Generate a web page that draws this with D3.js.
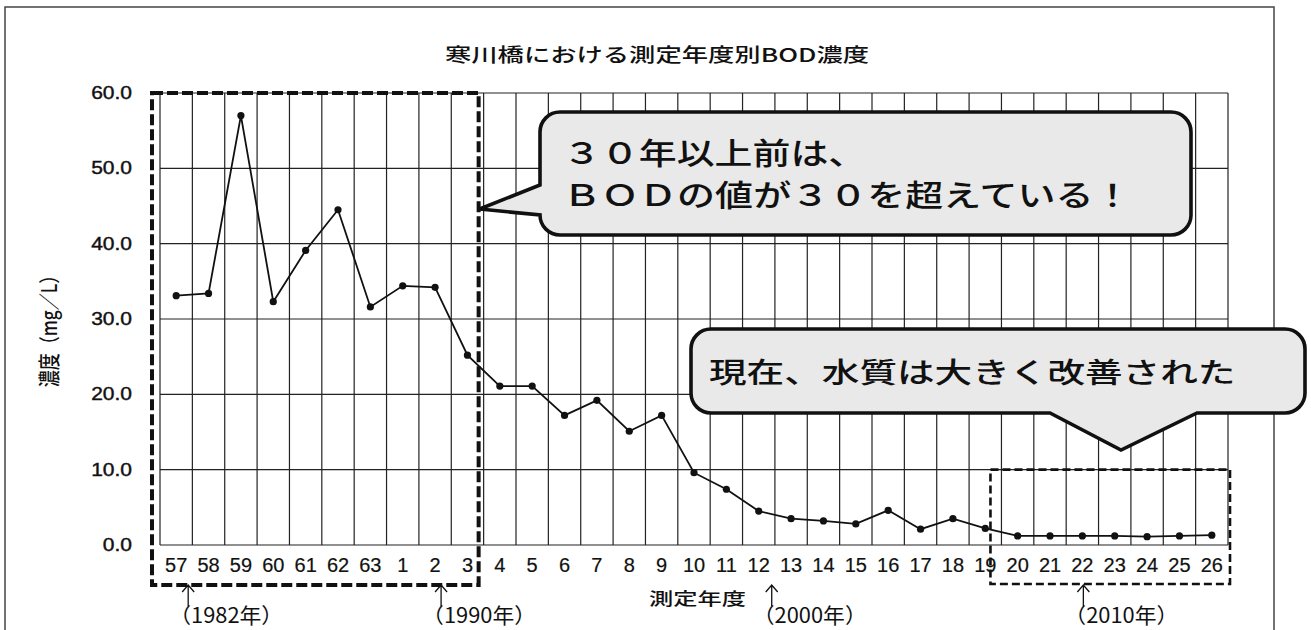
<!DOCTYPE html>
<html>
<head>
<meta charset="utf-8">
<script src="https://cdn.jsdelivr.net/npm/d3@7"></script>
<style>
  body { margin: 0; background: #fff; }
  svg { display: block; }
</style>
</head>
<body>
<div class="chart"></div>
<script>
// 測定年度 (昭和57〜63, 平成1〜26)
const years = ['57', '58', '59', '60', '61', '62', '63', '1', '2', '3', '4', '5', '6', '7', '8', '9',
    '10', '11', '12', '13', '14', '15', '16', '17', '18', '19', '20', '21', '22', '23', '24', '25', '26'];
// BOD濃度 (mg/L)
const bod = [33.1, 33.4, 57.0, 32.3, 39.1, 44.5, 31.6, 34.4, 34.2, 25.2, 21.1, 21.1, 17.2, 19.2, 15.1, 17.2,
    9.6, 7.4, 4.5, 3.5, 3.2, 2.8, 4.6, 2.1, 3.5, 2.2, 1.2, 1.2, 1.2, 1.2, 1.1, 1.2, 1.3];
const yTicks = [0, 10, 20, 30, 40, 50, 60];
const eraMarks = [
    { at: '57', label: '（1982年）' },
    { at: '2', label: '（1990年）' },
    { at: '12', label: '（2000年）' },
    { at: '22', label: '（2010年）' }
];
const note1 = ['３０年以上前は、', 'ＢＯＤの値が３０を超えている！'];
const note2 = '現在、水質は大きく改善された';

const width = 1311, height = 630;
const jp = '"Noto Sans CJK JP", sans-serif';
const latin = '"Liberation Sans", Arial, sans-serif';
const ink = '#111';

const svg = d3.select('.chart')
    .append('svg')
        .attr('width', width)
        .attr('height', height);

const x = d3.scaleBand().domain(years).range([160, 1228]);
const y = d3.scaleLinear().domain([0, 60]).range([545, 93]);
const bw = x.bandwidth();

// outer frame
svg.append('rect')
    .attr('x', 5).attr('y', 7)
    .attr('width', 1269).attr('height', 624)
    .attr('fill', 'none')
    .attr('stroke', '#444')
    .attr('stroke-width', 1.5);

// title
svg.append('text')
    .attr('x', 657).attr('y', 62)
    .attr('text-anchor', 'middle')
    .attr('font-family', jp)
    .attr('font-size', 19)
    .attr('font-weight', 500)
    .attr('textLength', 424)
    .attr('lengthAdjust', 'spacingAndGlyphs')
    .attr('fill', ink)
    .text('寒川橋における測定年度別BOD濃度');

// grid
const grid = svg.append('g').attr('stroke', '#222').attr('stroke-width', 1.2);
grid.selectAll('.vline')
    .data(years.map(d => x(d)).concat([x.range()[1]]))
    .enter()
        .append('line')
        .attr('x1', d => d).attr('x2', d => d)
        .attr('y1', y(60)).attr('y2', y(0));
grid.selectAll('.hline')
    .data(yTicks)
    .enter()
        .append('line')
        .attr('x1', x.range()[0]).attr('x2', x.range()[1])
        .attr('y1', d => y(d)).attr('y2', d => y(d));

// y axis labels
const yAxis = svg.append('g')
    .attr('transform', `translate(${x.range()[0]},0)`)
    .call(d3.axisLeft(y).tickValues(yTicks).tickFormat(d3.format('.1f')).tickSize(0).tickPadding(0));
yAxis.select('.domain').remove();
yAxis.selectAll('text')
    .attr('x', -28 / 1.2)
    .attr('transform', 'scale(1.2,1)')
    .attr('font-family', latin)
    .attr('font-size', 17.5)
    .attr('fill', ink)
    .attr('stroke', ink)
    .attr('stroke-width', 0.4);

// x axis labels
const xAxis = svg.append('g')
    .attr('transform', `translate(0,${y(0)})`)
    .call(d3.axisBottom(x).tickSize(0).tickPadding(13));
xAxis.select('.domain').remove();
xAxis.selectAll('text')
    .attr('font-family', latin)
    .attr('font-size', 20)
    .attr('fill', ink)
    .attr('stroke', ink)
    .attr('stroke-width', 0.2);

// axis titles
svg.append('text')
    .attr('transform', 'translate(57,327) scale(1.25,1) rotate(-90)')
    .attr('text-anchor', 'middle')
    .attr('font-family', jp)
    .attr('font-size', 17)
    .attr('font-weight', 500)
    .attr('fill', ink)
    .text('濃度（mg／L）');

svg.append('text')
    .attr('x', 649).attr('y', 605)
    .attr('font-family', jp)
    .attr('font-size', 17)
    .attr('font-weight', 500)
    .attr('textLength', 97)
    .attr('lengthAdjust', 'spacingAndGlyphs')
    .attr('fill', ink)
    .text('測定年度');

// data line and points
const cx = d => x(d) + bw / 2;
svg.append('path')
    .datum(bod)
    .attr('fill', 'none')
    .attr('stroke', ink)
    .attr('stroke-width', 1.8)
    .attr('d', d3.line().x((d, i) => cx(years[i])).y(d => y(d)));
svg.selectAll('.pt')
    .data(bod)
    .enter()
        .append('circle')
        .attr('cx', (d, i) => cx(years[i]))
        .attr('cy', d => y(d))
        .attr('r', 3.6)
        .attr('fill', ink);

// dashed highlight boxes
const box1 = { x0: x('57') - 8, x1: x('4') - 5, y0: y(60), y1: 585 };
svg.append('rect')
    .attr('x', box1.x0).attr('y', box1.y0)
    .attr('width', box1.x1 - box1.x0).attr('height', box1.y1 - box1.y0)
    .attr('fill', 'none')
    .attr('stroke', ink)
    .attr('stroke-width', 4)
    .attr('stroke-dasharray', '11 4');

const box2 = { x0: x('20') - 11, x1: x.range()[1] + 2, y0: y(10), y1: 584 };
svg.append('rect')
    .attr('x', box2.x0).attr('y', box2.y0)
    .attr('width', box2.x1 - box2.x0).attr('height', box2.y1 - box2.y0)
    .attr('fill', 'none')
    .attr('stroke', ink)
    .attr('stroke-width', 2.6)
    .attr('stroke-dasharray', '8 4');

// era arrows and labels
const era = svg.selectAll('.era')
    .data(eraMarks)
    .enter()
        .append('g')
        .attr('transform', (d, i) => `translate(${cx(d.at) + [12, 6, 13, 1][i]},0)`);
era.append('path')
    .attr('d', 'M0,606V585M-6,592L0,585L6,592')
    .attr('fill', 'none')
    .attr('stroke', ink)
    .attr('stroke-width', 1.3);
era.append('text')
    .attr('x', -19).attr('y', 623)
    .attr('font-family', jp)
    .attr('font-size', 21)
    .attr('textLength', 114)
    .attr('lengthAdjust', 'spacingAndGlyphs')
    .attr('fill', ink)
    .text(d => d.label);

// callouts
const r = 20;
const c1 = { x0: 540, x1: 1191, y0: 112, y1: 235, tipX: x('4') - 4, tipY: 209 };
svg.append('path')
    .attr('d', `M${c1.x0 + r},${c1.y0}H${c1.x1 - r}A${r},${r} 0 0 1 ${c1.x1},${c1.y0 + r}` +
        `V${c1.y1 - r}A${r},${r} 0 0 1 ${c1.x1 - r},${c1.y1}H${c1.x0 + r}` +
        `A${r},${r} 0 0 1 ${c1.x0},${c1.y1 - r}L${c1.tipX},${c1.tipY}L${c1.x0},185` +
        `V${c1.y0 + r}A${r},${r} 0 0 1 ${c1.x0 + r},${c1.y0}Z`)
    .attr('fill', '#e9e9e9')
    .attr('stroke', ink)
    .attr('stroke-width', 3.6);
svg.selectAll('.n1')
    .data(note1)
    .enter()
        .append('text')
        .attr('x', 563)
        .attr('y', (d, i) => 164 + i * 42)
        .attr('font-family', jp)
        .attr('font-size', 30)
        .attr('font-weight', 500)
        .attr('textLength', d => d.length * 37.9)
        .attr('lengthAdjust', 'spacingAndGlyphs')
        .attr('fill', ink)
        .text(d => d);

const c2 = { x0: 691, x1: 1305, y0: 329, y1: 413 };
svg.append('path')
    .attr('d', `M${c2.x0 + r},${c2.y0}H${c2.x1 - r}A${r},${r} 0 0 1 ${c2.x1},${c2.y0 + r}` +
        `V${c2.y1 - r}A${r},${r} 0 0 1 ${c2.x1 - r},${c2.y1}H1197L1121,450L1050,${c2.y1}` +
        `H${c2.x0 + r}A${r},${r} 0 0 1 ${c2.x0},${c2.y1 - r}V${c2.y0 + r}` +
        `A${r},${r} 0 0 1 ${c2.x0 + r},${c2.y0}Z`)
    .attr('fill', '#e9e9e9')
    .attr('stroke', ink)
    .attr('stroke-width', 3.6);
svg.append('text')
    .attr('x', 709).attr('y', 383)
    .attr('font-family', jp)
    .attr('font-size', 28)
    .attr('font-weight', 500)
    .attr('textLength', note2.length * 37.6)
    .attr('lengthAdjust', 'spacingAndGlyphs')
    .attr('fill', ink)
    .text(note2);
</script>
</body>
</html>
